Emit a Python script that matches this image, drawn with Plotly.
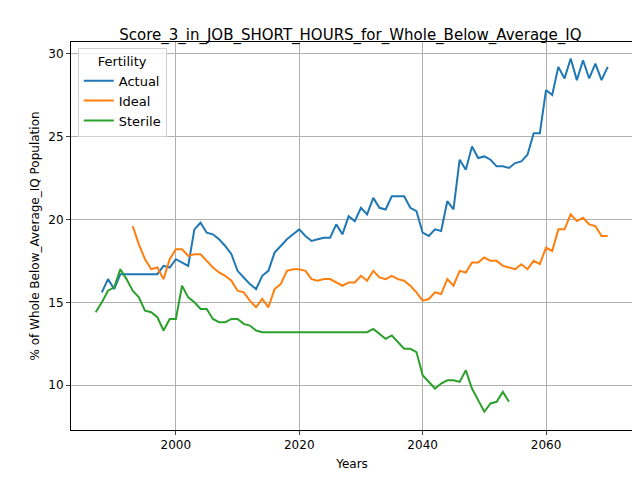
import plotly.graph_objects as go

# data
actual_years = list(range(1988, 2071))
actual = [15.6, 16.4, 15.8, 16.7, 16.7, 16.7, 16.7, 16.7, 16.7, 16.7,
          17.2, 17.1, 17.6, 17.4, 17.2, 19.4, 19.8, 19.2, 19.1, 18.8,
          18.4, 17.9, 16.9, 16.5, 16.1, 15.8, 16.6, 16.9, 18.0, 18.4,
          18.8, 19.1, 19.4, 19.0, 18.7, 18.8, 18.9, 18.9, 19.7, 19.1,
          20.2, 19.9, 20.7, 20.3, 21.3, 20.7, 20.6, 21.4, 21.4, 21.4,
          20.7, 20.5, 19.2, 19.0, 19.4, 19.3, 21.1, 20.6, 23.6, 23.0,
          24.4, 23.7, 23.8, 23.6, 23.2, 23.2, 23.1, 23.4, 23.5, 23.9,
          25.2, 25.2, 27.8, 27.5, 29.2, 28.5, 29.7, 28.4, 29.6, 28.5,
          29.4, 28.4, 29.2]

ideal_years = list(range(1993, 2071))
ideal = [19.6, 18.5, 17.6, 17.0, 17.1, 16.4, 17.6, 18.2, 18.2, 17.8,
         17.9, 17.9, 17.5, 17.1, 16.8, 16.6, 16.3, 15.7, 15.6, 15.1,
         14.7, 15.2, 14.7, 15.8, 16.1, 16.9, 17.0, 17.0, 16.9, 16.4,
         16.3, 16.4, 16.4, 16.2, 16.0, 16.2, 16.2, 16.6, 16.3, 16.9,
         16.5, 16.4, 16.6, 16.4, 16.3, 16.0, 15.6, 15.1, 15.2, 15.6,
         15.5, 16.4, 16.0, 16.9, 16.8, 17.4, 17.4, 17.7, 17.5, 17.5,
         17.2, 17.1, 17.0, 17.3, 17.0, 17.5, 17.3, 18.3, 18.1, 19.4,
         19.4, 20.3, 19.9, 20.1, 19.7, 19.6, 19.0, 19.0]

sterile_years = list(range(1987, 2055))
sterile = [14.4, 15.0, 15.7, 15.9, 17.0, 16.4, 15.7, 15.3, 14.5, 14.4,
           14.1, 13.3, 14.0, 14.0, 16.0, 15.3, 15.0, 14.6, 14.6, 14.0,
           13.8, 13.8, 14.0, 14.0, 13.7, 13.6, 13.3, 13.2] + [13.2] * 17 + \
          [13.4, 13.1, 12.8, 13.0, 12.6, 12.2, 12.2, 12.0, 10.6, 10.2,
           9.8, 10.1, 10.3, 10.3, 10.2, 10.9, 9.8, 9.1, 8.4, 8.9,
           9.0, 9.6, 9.0]

fig = go.Figure()
for name, xs, ys, col in [("Actual", actual_years, actual, "#1f77b4"),
                          ("Ideal", ideal_years, ideal, "#ff7f0e"),
                          ("Sterile", sterile_years, sterile, "#2ca02c")]:
    fig.add_trace(go.Scatter(x=xs, y=ys, name=name, mode="lines",
                             line=dict(color=col, width=2)))

axis_style = dict(showgrid=True, gridcolor="#b0b0b0", gridwidth=1,
                  showline=True, linecolor="black", mirror=True,
                  ticks="outside", ticklen=4, zeroline=False, automargin=False,
                  tickfont=dict(size=12, color="black"))

fig.update_layout(
    width=640, height=480,
    paper_bgcolor="white", plot_bgcolor="white",
    font=dict(family="DejaVu Sans", color="black"),
    margin=dict(l=63, r=15, t=34, b=58, autoexpand=False),
    title=dict(text="Score_3_in_JOB_SHORT_HOURS_for_Whole_Below_Average_IQ",
               x=0.535, xanchor="center", y=0.955, font=dict(size=15)),
    xaxis=dict(title=dict(text="Years", font=dict(size=12), standoff=8),
               range=[1983, 2074.1], dtick=20, **axis_style),
    yaxis=dict(title=dict(text="% of Whole Below_Average_IQ Population", font=dict(size=12), standoff=6),
               range=[7.3, 30.7], dtick=5, **axis_style),
    legend=dict(title=dict(text="Fertility", side="top center", font=dict(size=13)),
                x=0.012, y=0.985, xanchor="left", yanchor="top",
                bordercolor="#d0d0d0", borderwidth=1,
                bgcolor="rgba(255,255,255,0.8)", font=dict(size=13)),
    showlegend=True,
)

fig.write_html("out.html")
